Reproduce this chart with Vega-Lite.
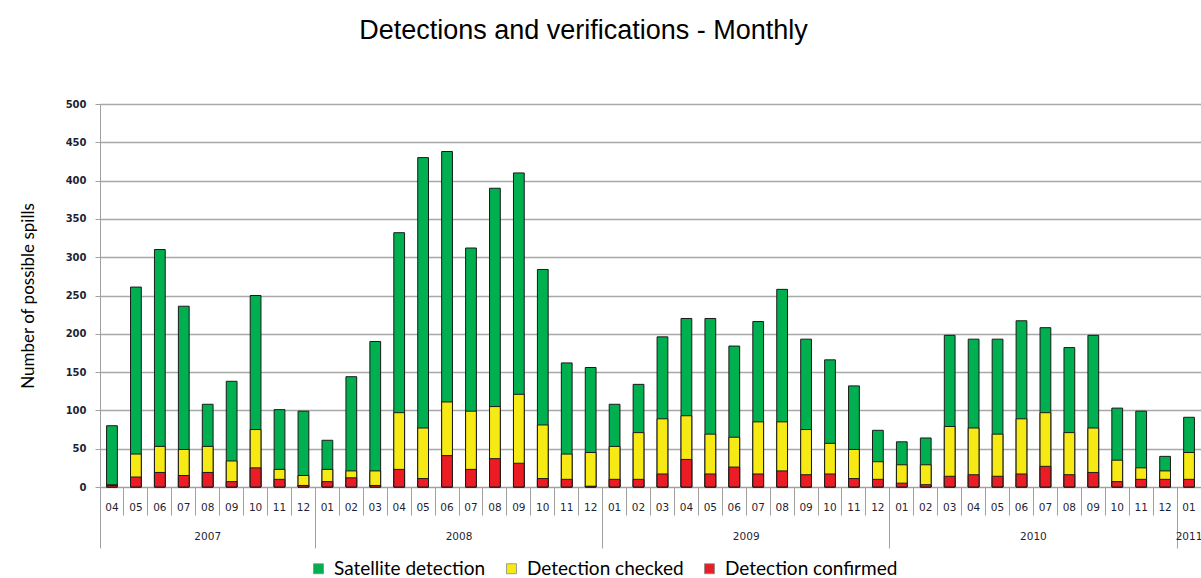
{
  "$schema": "https://vega.github.io/schema/vega-lite/v6.json",
  "width": 1101,
  "height": 383,
  "autosize": {"type": "none"},
  "padding": {"left": 100, "top": 104, "right": 0, "bottom": 91},
  "background": "white",
  "title": {
    "text": "Detections and verifications - Monthly",
    "font": "Liberation Sans",
    "fontSize": 27,
    "fontWeight": "normal",
    "color": "#000000",
    "anchor": "middle",
    "dx": -67,
    "offset": 54
  },
  "config": {
    "view": {"stroke": null},
    "legend": {
      "orient": "none",
      "legendX": 209,
      "legendY": 455,
      "direction": "horizontal",
      "symbolType": "square",
      "symbolSize": 100,
      "symbolStrokeWidth": 0.8,
      "symbolStrokeColor": "#8a8a8a",
      "labelFont": "Lato",
      "labelFontSize": 19,
      "labelColor": "#000000",
      "labelOffset": 6,
      "columnPadding": 16,
      "labelLimit": 400
    }
  },
  "data": {
    "values": [
      {"month": "2007-04", "Satellite detection": 80, "Detection checked": 3, "Detection confirmed": 2},
      {"month": "2007-05", "Satellite detection": 261, "Detection checked": 43, "Detection confirmed": 13},
      {"month": "2007-06", "Satellite detection": 310, "Detection checked": 53, "Detection confirmed": 19},
      {"month": "2007-07", "Satellite detection": 236, "Detection checked": 49, "Detection confirmed": 15},
      {"month": "2007-08", "Satellite detection": 108, "Detection checked": 53, "Detection confirmed": 19},
      {"month": "2007-09", "Satellite detection": 138, "Detection checked": 34, "Detection confirmed": 7},
      {"month": "2007-10", "Satellite detection": 250, "Detection checked": 75, "Detection confirmed": 25},
      {"month": "2007-11", "Satellite detection": 101, "Detection checked": 23, "Detection confirmed": 10},
      {"month": "2007-12", "Satellite detection": 99, "Detection checked": 15, "Detection confirmed": 2},
      {"month": "2008-01", "Satellite detection": 61, "Detection checked": 23, "Detection confirmed": 7},
      {"month": "2008-02", "Satellite detection": 144, "Detection checked": 21, "Detection confirmed": 12},
      {"month": "2008-03", "Satellite detection": 190, "Detection checked": 21, "Detection confirmed": 2},
      {"month": "2008-04", "Satellite detection": 332, "Detection checked": 97, "Detection confirmed": 23},
      {"month": "2008-05", "Satellite detection": 430, "Detection checked": 77, "Detection confirmed": 11},
      {"month": "2008-06", "Satellite detection": 438, "Detection checked": 111, "Detection confirmed": 41},
      {"month": "2008-07", "Satellite detection": 312, "Detection checked": 99, "Detection confirmed": 23},
      {"month": "2008-08", "Satellite detection": 390, "Detection checked": 105, "Detection confirmed": 37},
      {"month": "2008-09", "Satellite detection": 410, "Detection checked": 121, "Detection confirmed": 31},
      {"month": "2008-10", "Satellite detection": 284, "Detection checked": 81, "Detection confirmed": 11},
      {"month": "2008-11", "Satellite detection": 162, "Detection checked": 43, "Detection confirmed": 10},
      {"month": "2008-12", "Satellite detection": 156, "Detection checked": 45, "Detection confirmed": 1},
      {"month": "2009-01", "Satellite detection": 108, "Detection checked": 53, "Detection confirmed": 10},
      {"month": "2009-02", "Satellite detection": 134, "Detection checked": 71, "Detection confirmed": 10},
      {"month": "2009-03", "Satellite detection": 196, "Detection checked": 89, "Detection confirmed": 17},
      {"month": "2009-04", "Satellite detection": 220, "Detection checked": 93, "Detection confirmed": 36},
      {"month": "2009-05", "Satellite detection": 220, "Detection checked": 69, "Detection confirmed": 17},
      {"month": "2009-06", "Satellite detection": 184, "Detection checked": 65, "Detection confirmed": 26},
      {"month": "2009-07", "Satellite detection": 216, "Detection checked": 85, "Detection confirmed": 17},
      {"month": "2009-08", "Satellite detection": 258, "Detection checked": 85, "Detection confirmed": 21},
      {"month": "2009-09", "Satellite detection": 193, "Detection checked": 75, "Detection confirmed": 16},
      {"month": "2009-10", "Satellite detection": 166, "Detection checked": 57, "Detection confirmed": 17},
      {"month": "2009-11", "Satellite detection": 132, "Detection checked": 49, "Detection confirmed": 11},
      {"month": "2009-12", "Satellite detection": 74, "Detection checked": 33, "Detection confirmed": 10},
      {"month": "2010-01", "Satellite detection": 59, "Detection checked": 29, "Detection confirmed": 5},
      {"month": "2010-02", "Satellite detection": 64, "Detection checked": 29, "Detection confirmed": 3},
      {"month": "2010-03", "Satellite detection": 198, "Detection checked": 79, "Detection confirmed": 14},
      {"month": "2010-04", "Satellite detection": 193, "Detection checked": 77, "Detection confirmed": 16},
      {"month": "2010-05", "Satellite detection": 193, "Detection checked": 69, "Detection confirmed": 14},
      {"month": "2010-06", "Satellite detection": 217, "Detection checked": 89, "Detection confirmed": 17},
      {"month": "2010-07", "Satellite detection": 208, "Detection checked": 97, "Detection confirmed": 27},
      {"month": "2010-08", "Satellite detection": 182, "Detection checked": 71, "Detection confirmed": 16},
      {"month": "2010-09", "Satellite detection": 198, "Detection checked": 77, "Detection confirmed": 19},
      {"month": "2010-10", "Satellite detection": 103, "Detection checked": 35, "Detection confirmed": 7},
      {"month": "2010-11", "Satellite detection": 99, "Detection checked": 25, "Detection confirmed": 10},
      {"month": "2010-12", "Satellite detection": 40, "Detection checked": 21, "Detection confirmed": 10},
      {"month": "2011-01", "Satellite detection": 91, "Detection checked": 45, "Detection confirmed": 10}
    ]
  },
  "transform": [
    {"fold": ["Satellite detection", "Detection checked", "Detection confirmed"], "as": ["series", "value"]}
  ],
  "encoding": {
    "y": {
      "field": "value",
      "type": "quantitative",
      "stack": null,
      "scale": {"domain": [0, 500], "nice": false},
      "axis": {
        "title": "Number of possible spills",
        "titleFont": "Lato",
        "titleFontSize": 17,
        "titleFontWeight": "normal",
        "titleColor": "#000000",
        "titlePadding": 28,
        "values": [0, 50, 100, 150, 200, 250, 300, 350, 400, 450, 500],
        "labelFont": "DejaVu Sans",
        "labelFontSize": 10,
        "labelFontWeight": "bold",
        "labelColor": "#1f1f33",
        "labelPadding": 9,
        "tickSize": 5,
        "tickColor": "#a0a0a0",
        "domainColor": "#a0a0a0",
        "grid": true,
        "gridColor": "#a8a8a8",
        "gridWidth": 1.3
      }
    },
    "color": {
      "field": "series",
      "type": "nominal",
      "scale": {
        "domain": ["Satellite detection", "Detection checked", "Detection confirmed"],
        "range": ["#00b050", "#f7ea14", "#ec1c24"]
      },
      "legend": {"title": null}
    }
  },
  "layer": [
    {
      "transform": [{"filter": "datum.series == 'Satellite detection'"}],
      "mark": {"type": "bar", "stroke": "#1a1a1a", "strokeWidth": 1, "width": {"band": 0.45}},
      "encoding": {
        "x": {
          "field": "month",
          "type": "ordinal",
          "scale": {"paddingInner": 0, "paddingOuter": 0},
          "axis": {
            "orient": "bottom",
            "title": null,
            "labelExpr": "slice(datum.value, 5)",
            "labelAngle": 0,
            "ticks": false,
            "labelPadding": 15,
            "labelFont": "DejaVu Sans",
            "labelFontSize": 10.5,
            "labelColor": "#1f1f33",
            "domainColor": "#a0a0a0",
            "grid": false
          }
        }
      }
    },
    {
      "transform": [{"filter": "datum.series == 'Detection checked'"}],
      "mark": {"type": "bar", "stroke": "#1a1a1a", "strokeWidth": 1, "width": {"band": 0.45}},
      "encoding": {
        "x": {
          "field": "month",
          "type": "ordinal",
          "scale": {"paddingInner": 0, "paddingOuter": 0},
          "axis": {
            "orient": "bottom",
            "title": null,
            "labels": false,
            "domain": false,
            "grid": false,
            "ticks": true,
            "bandPosition": 0,
            "tickColor": "#a0a0a0",
            "tickWidth": 1,
            "tickSize": {"condition": {"test": "datum.value == '2007-04' || slice(datum.value, 5) == '01'", "value": 61}, "value": 28}
          }
        }
      }
    },
    {
      "transform": [{"filter": "datum.series == 'Detection confirmed'"}],
      "mark": {"type": "bar", "stroke": "#1a1a1a", "strokeWidth": 1, "width": {"band": 0.45}},
      "encoding": {
        "x": {
          "field": "month",
          "type": "ordinal",
          "scale": {"paddingInner": 0, "paddingOuter": 0},
          "axis": {
            "orient": "bottom",
            "title": null,
            "values": ["2007-08", "2008-07", "2009-07", "2010-07", "2011-01"],
            "labelExpr": "slice(datum.value, 0, 4)",
            "labelAngle": 0,
            "ticks": false,
            "domain": false,
            "grid": false,
            "labelPadding": 44,
            "labelOffset": {"condition": {"test": "slice(datum.value, 5) == '07'", "value": -12}, "value": 0},
            "labelFont": "DejaVu Sans",
            "labelFontSize": 10.5,
            "labelColor": "#1f1f33"
          }
        }
      }
    }
  ],
  "resolve": {"axis": {"x": "independent"}}
}
